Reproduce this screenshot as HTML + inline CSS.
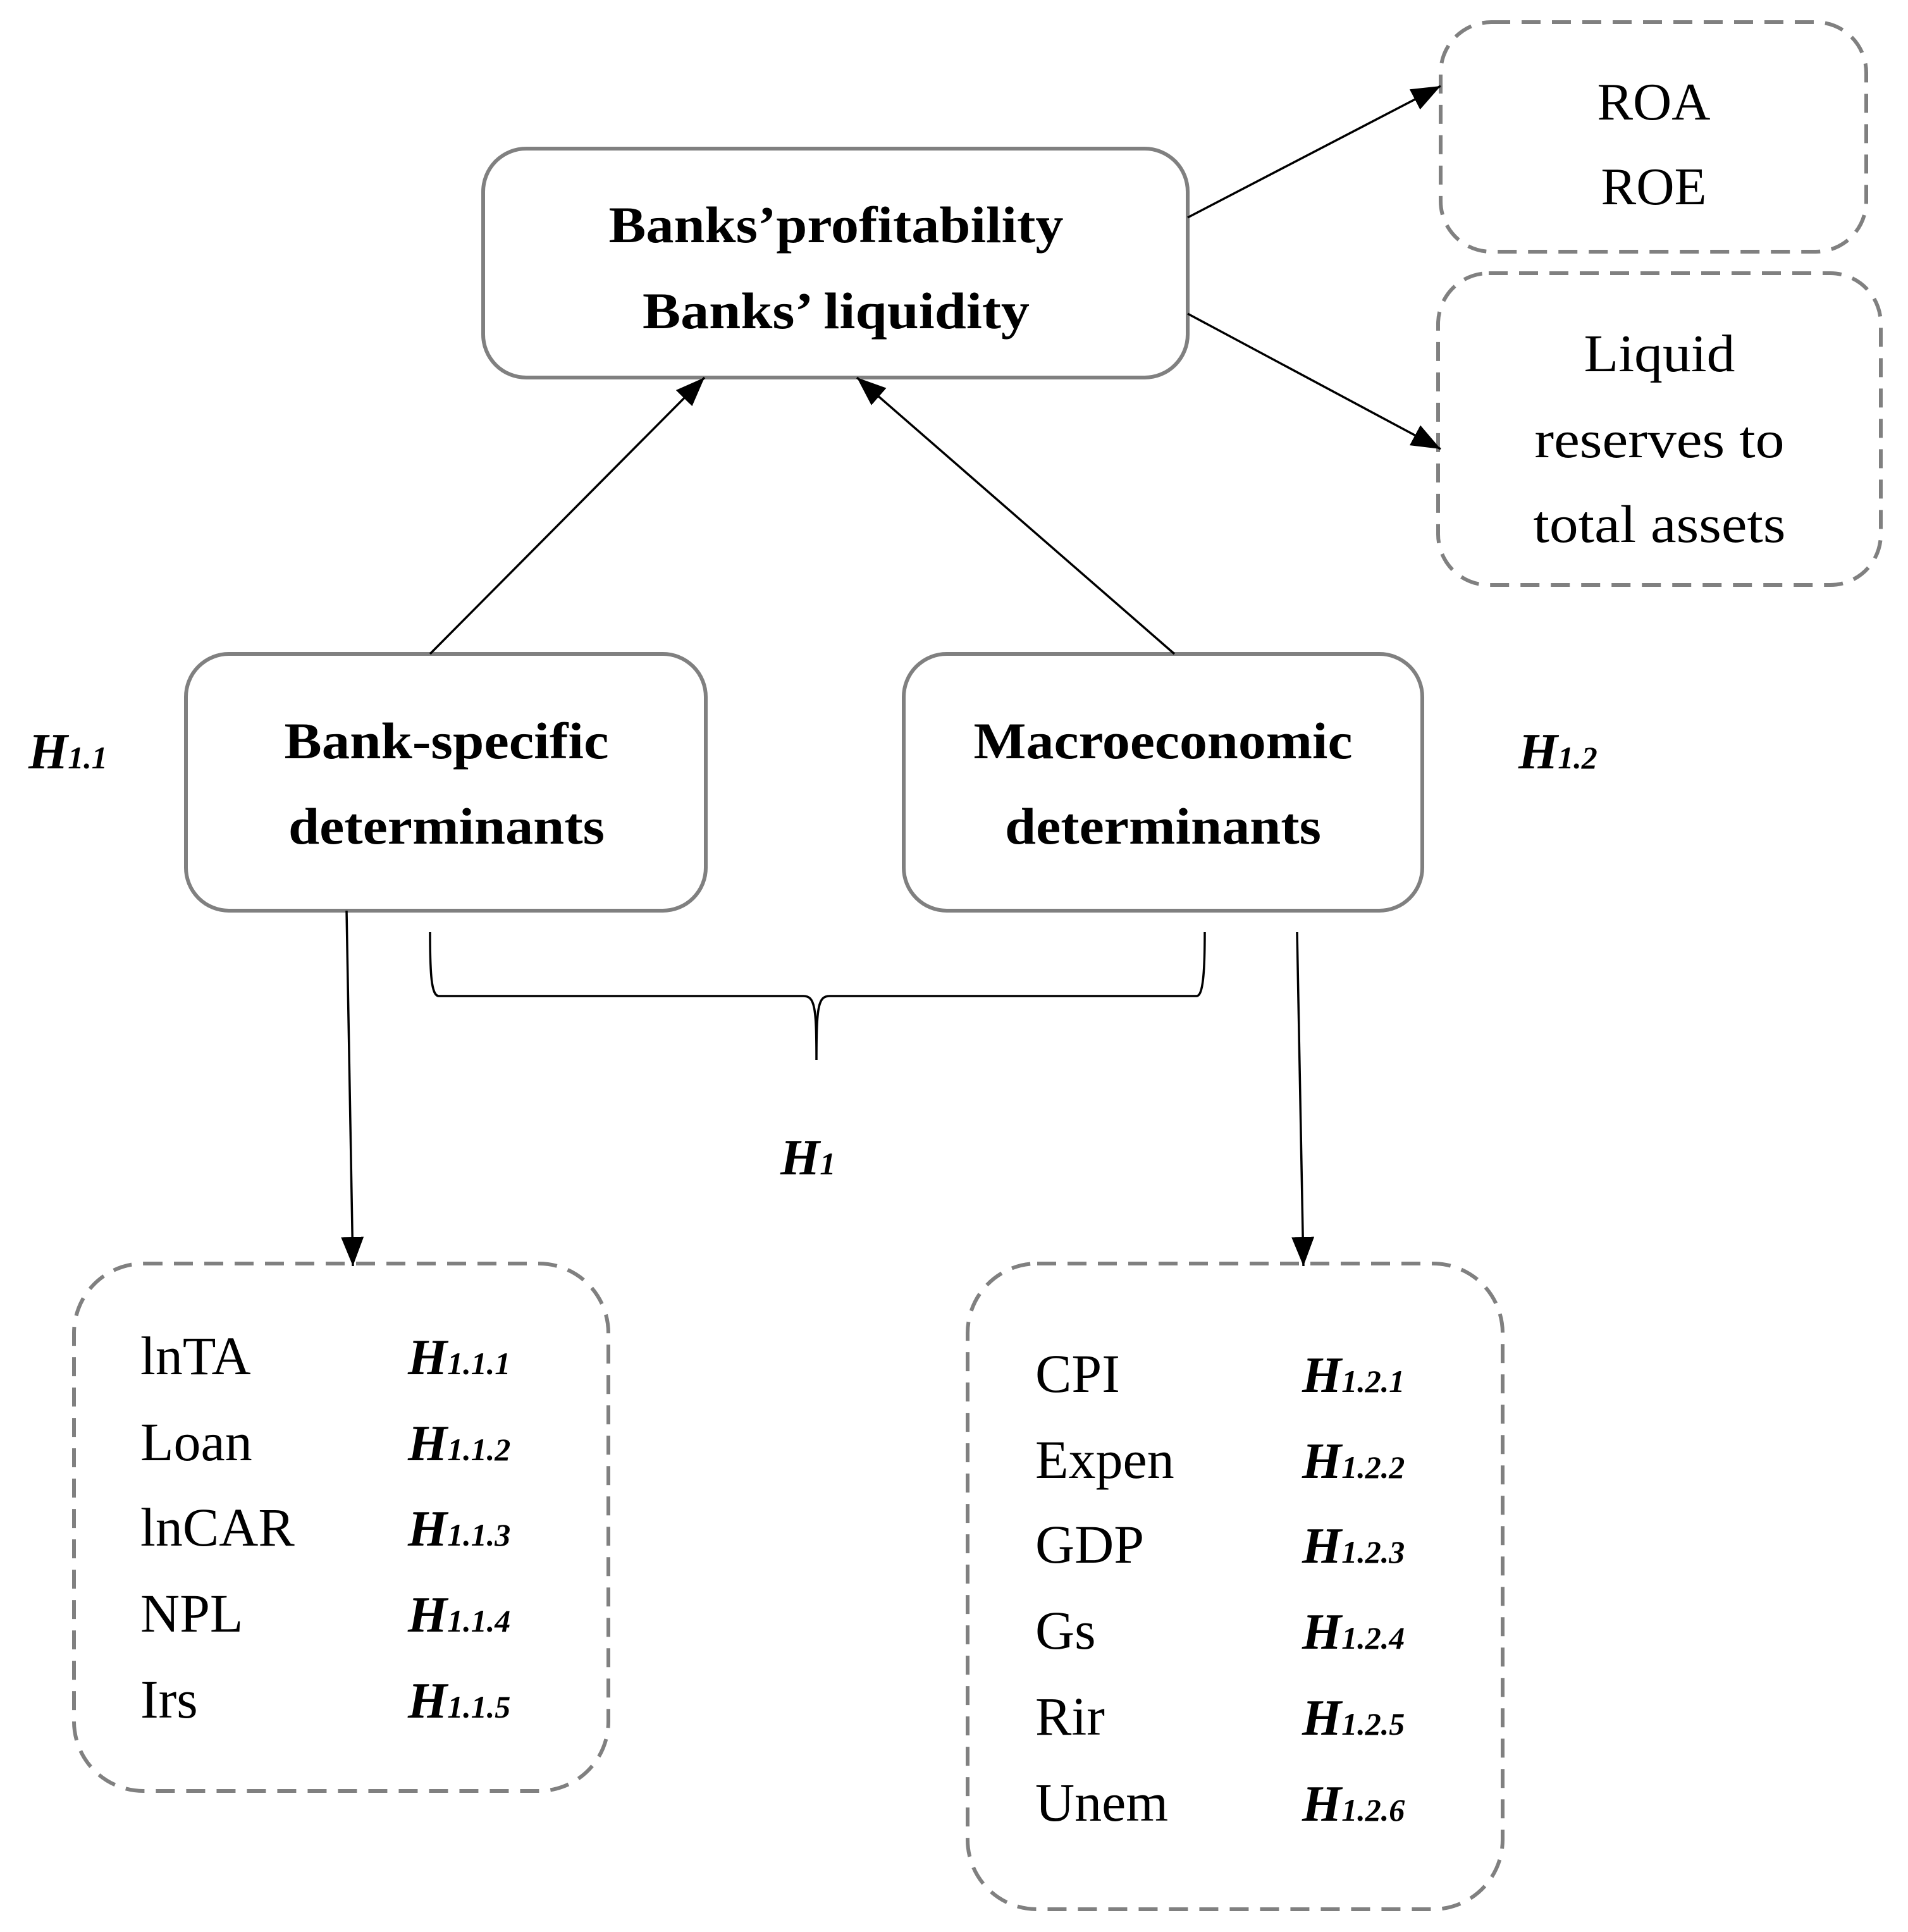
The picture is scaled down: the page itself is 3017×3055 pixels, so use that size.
<!DOCTYPE html>
<html><head><meta charset="utf-8"><style>body{margin:0;background:#fff}svg{display:block}</style></head>
<body>
<svg width="3017" height="3055" viewBox="0 0 3017 3055" xmlns="http://www.w3.org/2000/svg" font-family="'Liberation Serif', serif">
<defs>
<marker id="a" markerWidth="46" markerHeight="36" refX="46" refY="18" orient="auto" markerUnits="userSpaceOnUse" viewBox="0 0 46 36">
<path d="M0,0 L46,18 L0,36 z" fill="#000"/>
</marker>
</defs>
<g fill="#fff" stroke="#808080" stroke-width="6">
<rect x="764" y="235" width="1114" height="362" rx="68"/>
<rect x="294" y="1034" width="822" height="406" rx="68"/>
<rect x="1429" y="1034" width="820" height="406" rx="68"/>
</g>
<g fill="none" stroke="#808080" stroke-width="6" stroke-dasharray="30,18">
<rect x="2278" y="35" width="673" height="363" rx="80"/>
<rect x="2274" y="432" width="700" height="493" rx="80"/>
<rect x="117" y="1998" width="845" height="834" rx="110"/>
<rect x="1530" y="1998" width="846" height="1021" rx="110"/>
</g>
<g stroke="#000" stroke-width="3.5" fill="none">
<line x1="1878" y1="344" x2="2278" y2="136" marker-end="url(#a)"/>
<line x1="1878" y1="496" x2="2278" y2="710" marker-end="url(#a)"/>
<line x1="680" y1="1034" x2="1114" y2="597" marker-end="url(#a)"/>
<line x1="1857" y1="1034" x2="1355" y2="597" marker-end="url(#a)"/>
<line x1="548" y1="1440" x2="558" y2="2002" marker-end="url(#a)"/>
<line x1="2051" y1="1474" x2="2061" y2="2002" marker-end="url(#a)"/>
<path d="M680,1474 C680,1540 682,1575 694,1575 L1270,1575 C1288,1575 1291,1590 1291,1676 C1291,1590 1294,1575 1312,1575 L1892,1575 C1902,1575 1905,1540 1905,1474"/>
</g>
<g font-weight="bold" font-size="82" text-anchor="middle" fill="#000" lengthAdjust="spacingAndGlyphs">
<text x="1322" y="383" textLength="719" lengthAdjust="spacingAndGlyphs">Banks’profitability</text>
<text x="1322" y="519" textLength="612" lengthAdjust="spacingAndGlyphs">Banks’ liquidity</text>
<text x="706" y="1199" textLength="513" lengthAdjust="spacingAndGlyphs">Bank-specific</text>
<text x="706" y="1334" textLength="500" lengthAdjust="spacingAndGlyphs">determinants</text>
<text x="1839" y="1199" textLength="599" lengthAdjust="spacingAndGlyphs">Macroeconomic</text>
<text x="1839" y="1334" textLength="500" lengthAdjust="spacingAndGlyphs">determinants</text>
</g>
<g font-size="84" text-anchor="middle" fill="#000">
<text x="2615" y="189" textLength="179" lengthAdjust="spacingAndGlyphs">ROA</text>
<text x="2615" y="323" textLength="167" lengthAdjust="spacingAndGlyphs">ROE</text>
<text x="2624" y="587" textLength="239" lengthAdjust="spacingAndGlyphs">Liquid</text>
<text x="2624" y="723" textLength="395" lengthAdjust="spacingAndGlyphs">reserves to</text>
<text x="2624" y="857" textLength="399" lengthAdjust="spacingAndGlyphs">total assets</text>
</g>
<g font-size="80" font-style="italic" font-weight="bold" fill="#000">
<text x="45" y="1215">H<tspan font-size="50">1.1</tspan></text>
<text x="2401" y="1215">H<tspan font-size="50">1.2</tspan></text>
<text x="1234" y="1857">H<tspan font-size="50">1</tspan></text>
</g>
<g font-size="86" fill="#000">
<text x="222" y="2173">lnTA</text>
<text x="222" y="2309">Loan</text>
<text x="222" y="2444">lnCAR</text>
<text x="222" y="2580">NPL</text>
<text x="222" y="2716">Irs</text>
<text x="1637" y="2201">CPI</text>
<text x="1637" y="2337">Expen</text>
<text x="1637" y="2471">GDP</text>
<text x="1637" y="2607">Gs</text>
<text x="1637" y="2743">Rir</text>
<text x="1637" y="2879">Unem</text>
</g>
<g font-size="80" font-style="italic" font-weight="bold" fill="#000">
<text x="645" y="2173">H<tspan font-size="50">1.1.1</tspan></text>
<text x="645" y="2309">H<tspan font-size="50">1.1.2</tspan></text>
<text x="645" y="2444">H<tspan font-size="50">1.1.3</tspan></text>
<text x="645" y="2580">H<tspan font-size="50">1.1.4</tspan></text>
<text x="645" y="2716">H<tspan font-size="50">1.1.5</tspan></text>
<text x="2059" y="2201">H<tspan font-size="50">1.2.1</tspan></text>
<text x="2059" y="2337">H<tspan font-size="50">1.2.2</tspan></text>
<text x="2059" y="2471">H<tspan font-size="50">1.2.3</tspan></text>
<text x="2059" y="2607">H<tspan font-size="50">1.2.4</tspan></text>
<text x="2059" y="2743">H<tspan font-size="50">1.2.5</tspan></text>
<text x="2059" y="2879">H<tspan font-size="50">1.2.6</tspan></text>
</g>
</svg>
</body></html>
